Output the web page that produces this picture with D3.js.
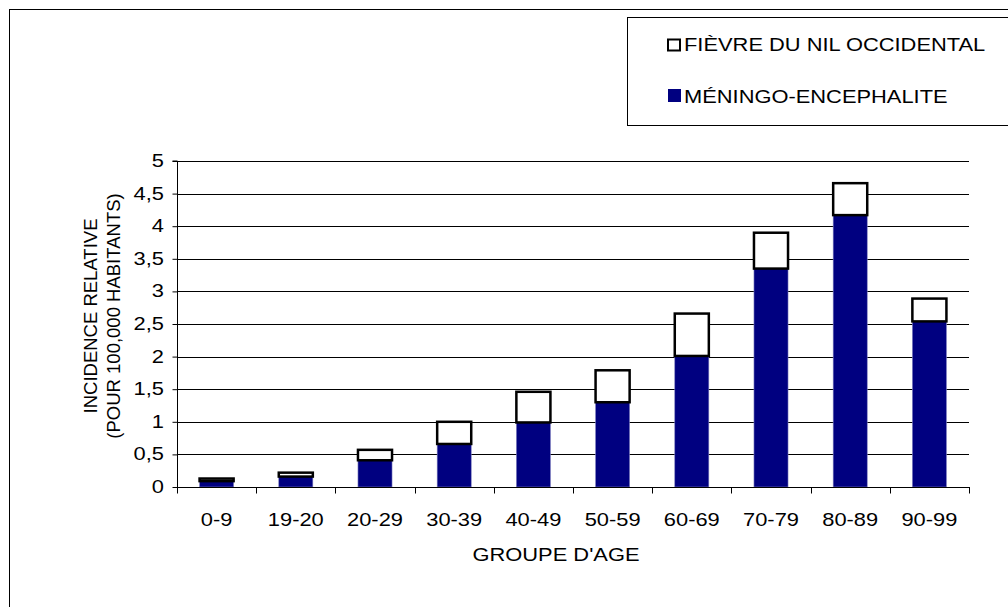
<!DOCTYPE html>
<html><head><meta charset="utf-8">
<script src="https://cdn.jsdelivr.net/npm/d3@7"></script>
<style>body{margin:0;background:#fff}svg{display:block;font-family:"Liberation Sans",Arial,sans-serif}</style>
</head><body>
<svg id="c" width="1008" height="607"></svg>
<script>
const categories = ["0-9","19-20","20-29","30-39","40-49","50-59","60-69","70-79","80-89","90-99"];
const meningo = [0.09,0.16,0.41,0.66,0.99,1.30,2.01,3.35,4.17,2.54];
const fievre  = [0.04,0.06,0.16,0.34,0.47,0.49,0.65,0.55,0.49,0.35];
const yTicks = [0,0.5,1,1.5,2,2.5,3,3.5,4,4.5,5];
const seriesNames = ["FIÈVRE DU NIL OCCIDENTAL","MÉNINGO-ENCEPHALITE"];

const SX = 1.25, FS = 17.5;
const svg = d3.select("#c");
const L = 177, R = 969, T = 161, B = 487;
const x = d3.scaleBand().domain(categories).range([L,R]).paddingInner(0.57).paddingOuter(0.285);
const y = d3.scaleLinear().domain([0,5]).range([B,T]);

function txt(parent, tx, ty, s, anchor){
  return parent.append("text").attr("transform",`translate(${tx},${ty}) scale(${SX},1)`)
    .attr("text-anchor",anchor||"start").attr("font-size",FS).attr("fill","#000").text(s);
}

// outer border
svg.append("rect").attr("x",9.5).attr("y",9.5).attr("width",1100).attr("height",700)
  .attr("fill","none").attr("stroke","#000").attr("stroke-width",1);

// gridlines
svg.append("g").selectAll("line").data(yTicks.filter(d=>d>0)).join("line")
  .attr("x1",L).attr("x2",R).attr("y1",d=>Math.round(y(d))+0.5).attr("y2",d=>Math.round(y(d))+0.5)
  .attr("stroke","#000").attr("stroke-width",1);

// bars
const g = svg.append("g");
categories.forEach((c,i)=>{
  const bx = x(c), bw = x.bandwidth();
  g.append("rect").attr("x",bx).attr("width",bw)
    .attr("y",y(meningo[i])).attr("height",y(0)-y(meningo[i]))
    .attr("fill","#000080").attr("stroke","#8080c0").attr("stroke-width",0.6);
  g.append("rect").attr("x",bx).attr("width",bw)
    .attr("y",y(meningo[i]+fievre[i])).attr("height",y(meningo[i])-y(meningo[i]+fievre[i]))
    .attr("fill","#fff").attr("stroke","#000").attr("stroke-width",2.5);
});

// y axis
const ya = d3.axisLeft(y).tickValues(yTicks).tickSize(5).tickFormat(()=> "");
const yg = svg.append("g").attr("transform",`translate(${L+0.5},0)`).call(ya);
yg.select(".domain").attr("d",`M-5,${T}H0V${B}`).attr("stroke","#000");
yg.selectAll(".tick line").attr("stroke","#000");
yTicks.forEach(v=>txt(svg, 164, y(v)+6, String(v).replace(".",","), "end"));

// x axis
const xa = svg.append("g").attr("transform",`translate(0,${B+0.5})`);
xa.append("line").attr("x1",L).attr("x2",R+1).attr("stroke","#000");
const bounds = d3.range(categories.length+1).map(i=>L+i*(R-L)/categories.length);
xa.selectAll("line.t").data(bounds).join("line").attr("class","t")
  .attr("x1",d=>Math.round(d)+0.5).attr("x2",d=>Math.round(d)+0.5).attr("y1",0).attr("y2",6).attr("stroke","#000");
categories.forEach(c=>txt(svg, x(c)+x.bandwidth()/2, 526, c, "middle"));

// axis titles
txt(svg, 556, 561, "GROUPE D'AGE", "middle");
const yt = svg.append("text").attr("transform","translate(97,316) rotate(-90)").attr("text-anchor","middle").attr("font-size",18.5);
yt.append("tspan").attr("x",0).attr("dy",0).text("INCIDENCE RELATIVE");
yt.append("tspan").attr("x",0).attr("dy",23).text("(POUR 100,000 HABITANTS)");

// legend
svg.append("rect").attr("x",627.5).attr("y",17.5).attr("width",500).attr("height",108)
  .attr("fill","#fff").attr("stroke","#000");
const lg = svg.append("g");
lg.append("rect").attr("x",668).attr("y",39.5).attr("width",12).attr("height",11).attr("fill","#fff").attr("stroke","#000").attr("stroke-width",2);
lg.append("rect").attr("x",668).attr("y",89).attr("width",13).attr("height",13).attr("fill","#000080");
txt(lg, 684, 50.5, seriesNames[0], "start");
txt(lg, 684, 103, seriesNames[1], "start");
</script>
</body></html>
